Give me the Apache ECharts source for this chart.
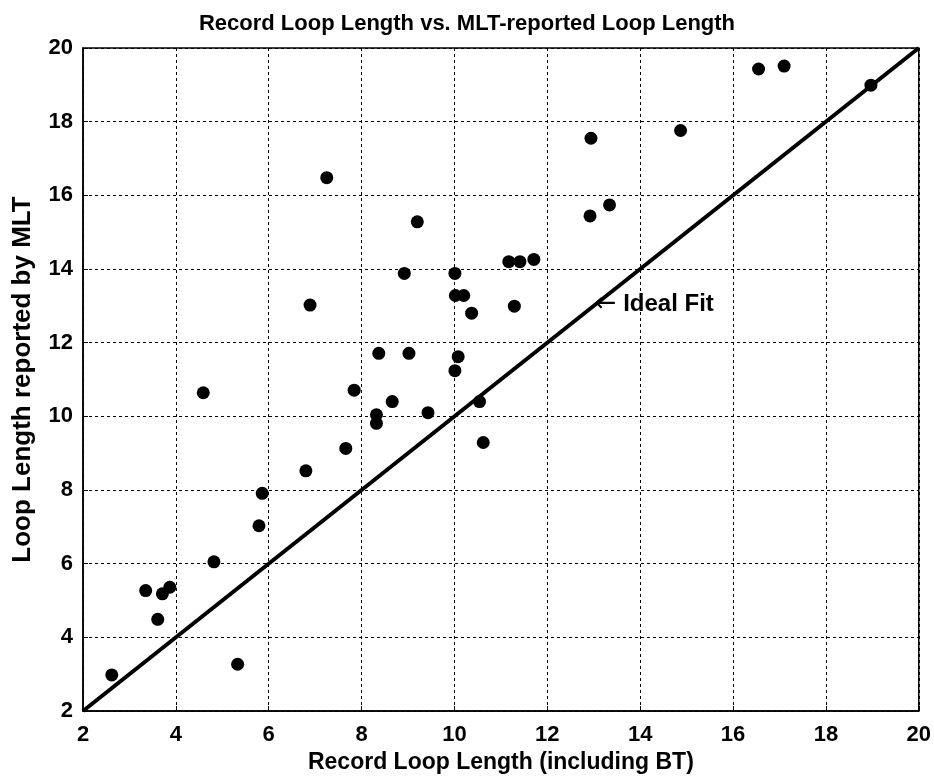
<!DOCTYPE html>
<html>
<head>
<meta charset="utf-8">
<script src="https://cdn.jsdelivr.net/npm/echarts@6/dist/echarts.min.js"></script>
<style>html,body{margin:0;padding:0;background:#fff;}#c{width:934px;height:783px;}</style>
</head>
<body>
<div id="c"></div>
<script>
const recordLen = [2.62,3.35,3.61,3.71,3.87,4.59,4.82,5.33,5.79,5.86,6.80,6.89,7.25,7.66,7.84,8.32,8.32,8.37,8.66,8.92,9.02,9.20,9.43,10.01,10.01,10.02,10.08,10.20,10.37,10.54,10.62,11.17,11.29,11.41,11.71,12.94,12.92,13.34,14.87,16.55,17.10,18.97];
const mltLen    = [2.98,5.27,4.49,5.18,5.36,10.64,6.05,3.27,7.03,7.91,8.52,13.02,16.48,9.13,10.71,10.04,9.81,11.71,10.40,13.88,11.71,15.28,10.10,11.24,13.88,13.28,11.62,13.28,12.80,10.40,9.29,14.20,12.99,14.20,14.26,17.55,15.44,15.74,17.76,19.43,19.51,18.99];
const idealX = [2, 20];
const idealY = [2, 20];
const xTicks = [2,4,6,8,10,12,14,16,18,20];
const yTicks = [2,4,6,8,10,12,14,16,18,20];
const annotationPos = [13.02, 13.03];
const annotationArrow = '\u2190';
const annotationText = 'Ideal Fit';

const font = 'Liberation Sans, Arial, Helvetica, sans-serif';
const chart = echarts.init(document.getElementById('c'), null, {renderer:'canvas'});
const pts = recordLen.map((v,i)=>[v, mltLen[i]]);
const axisCommon = {
  min: 2, max: 20, interval: 2,
  axisLine: {show:true, lineStyle:{color:'#000', width:1.5}},
  axisTick: {show:true, inside:true, length:5, lineStyle:{color:'#000'}},
  splitLine: {show:true, lineStyle:{color:'#000', width:1, type:[3,3]}},
  axisLabel: {color:'#000', fontFamily:font, fontWeight:'bold', fontSize:22},
  nameLocation: 'middle'
};
chart.setOption({
  animation: false,
  backgroundColor: '#fff',
  title: {
    text: 'Record Loop Length vs. MLT-reported Loop Length',
    left: 'center', top: 8,
    textStyle: {color:'#000', fontFamily:font, fontWeight:'bold', fontSize:22}
  },
  grid: {left:83, right:15, top:48, bottom:72, show:true, borderColor:'#000', borderWidth:1.5, containLabel:false},
  xAxis: Object.assign({}, axisCommon, {
    type:'value', name:'Record Loop Length (including BT)', nameGap:26,
    nameTextStyle: {color:'#000', fontFamily:font, fontWeight:'bold', fontSize:23},
    axisLabel: Object.assign({}, axisCommon.axisLabel, {margin:13, formatter: v => xTicks.includes(v) ? String(v) : ''})
  }),
  yAxis: Object.assign({}, axisCommon, {
    type:'value', name:'Loop Length reported by MLT', nameGap:47,
    nameTextStyle: {color:'#000', fontFamily:font, fontWeight:'bold', fontSize:26},
    axisLabel: Object.assign({}, axisCommon.axisLabel, {margin:10, formatter: v => yTicks.includes(v) ? String(v) : ''})
  }),
  series: [
    {
      type:'line', data: idealX.map((v,i)=>[v, idealY[i]]), symbol:'none',
      lineStyle:{color:'#000', width:4}, silent:true, z:2
    },
    {
      type:'scatter', data: pts, symbol:'circle', symbolSize:13,
      itemStyle:{color:'#000', opacity:1}, z:3
    },
    {
      type:'scatter', data:[annotationPos], symbolSize:0,
      itemStyle:{opacity:1},
      label:{show:true, position:'right', distance:0,
        formatter: '{a|' + annotationArrow + '}{b| ' + annotationText + '}',
        rich:{
          a:{color:'#000', fontFamily:'DejaVu Sans', fontSize:26},
          b:{color:'#000', fontFamily:font, fontWeight:'bold', fontSize:24}
        }}, z:4
    }
  ]
});
</script>
</body>
</html>
